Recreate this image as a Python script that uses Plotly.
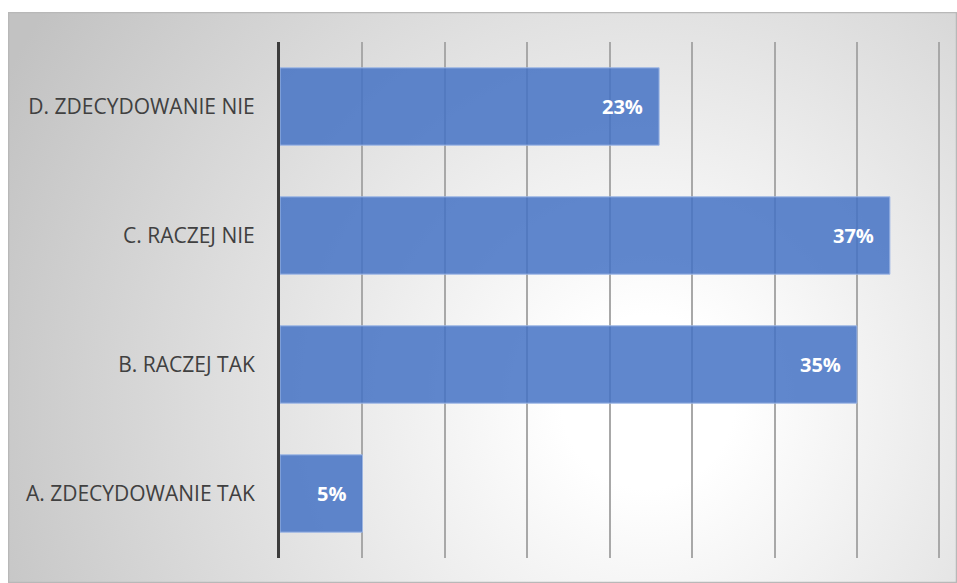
import base64
import plotly.graph_objects as go

# Survey answers (bottom to top) and their shares in percent
categories = ["A. ZDECYDOWANIE TAK", "B. RACZEJ TAK", "C. RACZEJ NIE", "D. ZDECYDOWANIE NIE"]
shares = [5, 35, 37, 23]

W, H = 957, 583
L, R, T, B = 280, 16, 42, 25
plot_w = W - L - R
plot_h = H - T - B
x_max = 40.1  # a hair past 40 so the last gridline is drawn

# Chart-area panel: radial grey-to-white fill with a thin frame
panel_x0, panel_y0 = 8, 12
panel_w, panel_h = W - panel_x0, H - panel_y0
svg = f"""<svg xmlns='http://www.w3.org/2000/svg' width='{panel_w}' height='{panel_h}' viewBox='0 0 {panel_w} {panel_h}' preserveAspectRatio='none'>
<defs><radialGradient id='g' gradientUnits='userSpaceOnUse' cx='640' cy='390' r='720'>
<stop offset='0' stop-color='#ffffff'/><stop offset='0.12' stop-color='#ffffff'/>
<stop offset='1' stop-color='#c2c2c2'/></radialGradient></defs>
<rect x='0.5' y='0.5' width='{panel_w-1}' height='{panel_h-1}' fill='url(#g)' stroke='#b8b8b8' stroke-width='1.5'/>
</svg>"""
bg_src = "data:image/svg+xml;base64," + base64.b64encode(svg.encode()).decode()

fig = go.Figure()
fig.add_trace(go.Bar(
    y=categories,
    x=shares,
    orientation="h",
    marker=dict(color="rgba(68,114,196,0.85)",
                line=dict(color="rgba(160,185,230,1)", width=1)),
    hoverinfo="skip",
))

for cat, v in zip(categories, shares):
    fig.add_annotation(
        x=v, y=cat, xref="x", yref="y",
        text=f"<b>{v}%</b>", showarrow=False,
        xanchor="right", xshift=-14,
        font=dict(family="Open Sans", size=20, color="white"),
    )

fig.add_layout_image(
    source=bg_src, xref="paper", yref="paper",
    x=(panel_x0 - L) / plot_w, y=1 + (T - panel_y0) / plot_h,
    sizex=panel_w / plot_w, sizey=panel_h / plot_h,
    xanchor="left", yanchor="top", sizing="stretch", layer="below",
)

fig.update_layout(
    width=W, height=H,
    margin=dict(l=L, r=R, t=T, b=B, pad=0),
    paper_bgcolor="white",
    plot_bgcolor="rgba(0,0,0,0)",
    bargap=0.4,
    showlegend=False,
    font=dict(family="Open Sans", color="#404040"),
)
fig.update_xaxes(
    range=[0, x_max], dtick=5, tick0=0,
    showgrid=True, gridcolor="#a8a8a8", gridwidth=1.5,
    showticklabels=False, zeroline=False, showline=False,
)
fig.update_yaxes(
    showline=True, linecolor="#3c3c3c", linewidth=3,
    showgrid=False, ticks="", ticklabelstandoff=18,
    tickfont=dict(family="Open Sans", size=21, color="#404040"),
)

fig.write_html("out.html")
